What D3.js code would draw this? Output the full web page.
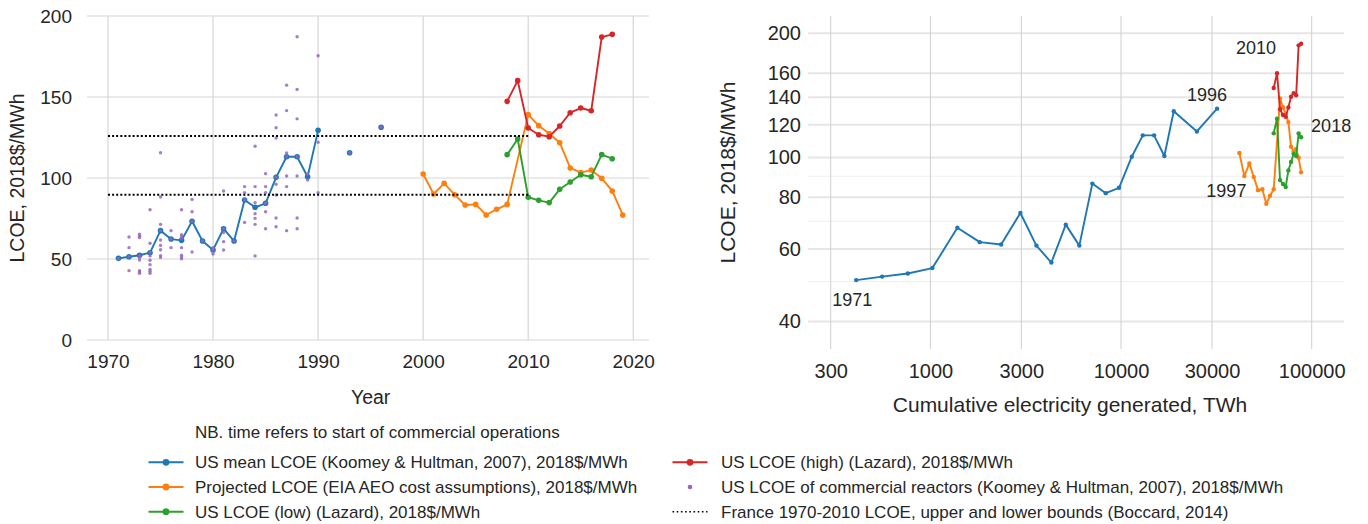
<!DOCTYPE html>
<html>
<head>
<meta charset="utf-8">
<script src="https://cdn.jsdelivr.net/npm/d3@7"></script>
<style>
  html, body { margin: 0; padding: 0; background: #ffffff; }
  svg { display: block; font-family: "Liberation Sans", Arial, sans-serif; }
  .tick text { fill: #262626; }
</style>
</head>
<body>
<svg id="chart" width="1368" height="524"></svg>
<script>
// ---- US mean LCOE (Koomey & Hultman, 2007) ----
const meanYears = [1971, 1972, 1973, 1974, 1975, 1976, 1977, 1978, 1979, 1980,
                   1981, 1982, 1983, 1984, 1985, 1986, 1987, 1988, 1989, 1990,
                   1991, 1992, 1993, 1994, 1995, 1996];
const meanLCOE  = [50.4, 51.4, 52.3, 53.9, 67.5, 62.3, 61.5, 73.3, 61.1, 55.6,
                   68.7, 61.1, 86.4, 81.9, 84.4, 100.4, 113.1, 113.1, 100.8, 129.4,
                   NaN, NaN, 115.6, NaN, NaN, 131.3];

// ---- Projected LCOE (EIA AEO cost assumptions) ----
const eiaYears = [2000, 2001, 2002, 2003, 2004, 2005, 2006, 2007, 2008,
                  2010, 2011, 2012, 2013, 2014, 2015, 2016, 2017, 2018, 2019];
const eiaLCOE  = [102.5, 90.1, 96.7, 89.7, 83.3, 83.7, 77.2, 80.7, 83.7,
                  139.1, 132.3, 127.5, 121.8, 106.2, 103.3, 104.9, 99.8, 92.0, 77.2];

// ---- Lazard (low / high) ----
const lazardYears = [2008, 2009, 2010, 2011, 2012, 2013, 2014, 2015, 2016, 2017, 2018];
const lazardLow   = [114.4, 124.1, 88.1, 86.2, 84.8, 93.0, 97.5, 102.0, 100.8, 114.4, 111.9];
const lazardHigh  = [147.3, 160.1, 130.9, 126.7, 125.5, 132.1, 140.3, 143.2, 141.5, 187.0, 188.7];

// ---- LCOE of individual commercial reactors (Koomey & Hultman, 2007) ----
const reactorYears = [
  1971,
  1972, 1972, 1972, 1972,
  1973, 1973, 1973, 1973, 1973, 1973, 1973, 1973, 1973,
  1974, 1974, 1974, 1974, 1974, 1974, 1974, 1974, 1974,
  1975, 1975, 1975, 1975, 1975, 1975, 1975, 1975, 1975,
  1976, 1976, 1976,
  1977, 1977, 1977, 1977, 1977, 1977, 1977, 1977,
  1978, 1978, 1978, 1978,
  1979,
  1980, 1980, 1980,
  1981, 1981, 1981, 1981, 1981,
  1982,
  1983, 1983, 1983, 1983,
  1984, 1984, 1984, 1984, 1984, 1984, 1984,
  1985, 1985, 1985, 1985, 1985, 1985,
  1986, 1986, 1986, 1986, 1986, 1986, 1986, 1986,
  1987, 1987, 1987, 1987, 1987, 1987, 1987,
  1988, 1988, 1988, 1988, 1988, 1988, 1988,
  1989, 1989,
  1990, 1990, 1990,
  1993,
  1996
];
const reactorLCOE = [
  50.4,
  63.6, 57.0, 51.4, 42.8,
  65.3, 64.0, 63.2, 52.0, 51.0, 49.4, 42.8, 42.0, 41.2,
  80.4, 59.7, 54.1, 51.9, 49.2, 46.5, 43.6, 42.4, 41.2,
  115.6, 88.3, 71.4, 67.5, 61.7, 58.4, 55.7, 52.1, 51.0,
  67.5, 62.3, 57.0,
  80.4, 65.0, 63.8, 62.8, 57.0, 52.3, 51.2, 50.2,
  86.8, 79.2, 73.3, 54.3,
  61.1,
  57.0, 55.6, 53.1,
  92.0, 68.7, 66.3, 60.7, 55.6,
  61.1,
  94.7, 91.0, 86.4, 72.6,
  119.6, 94.7, 84.8, 78.0, 75.1, 71.4, 51.9,
  102.7, 94.7, 91.0, 84.4, 79.2, 68.7,
  138.9, 131.0, 124.7, 100.4, 96.1, 89.5, 75.3, 69.9,
  157.3, 141.6, 115.5, 113.1, 101.2, 94.7, 67.5,
  187.2, 154.7, 136.5, 113.1, 101.2, 75.3, 68.7,
  102.5, 98.8,
  175.5, 122.1, 90.9,
  115.6,
  131.3
];

// ---- France 1970-2010 LCOE bounds (Boccard, 2014) ----
const franceYears = [1970, 2010];
const franceLower = 89.6;
const franceUpper = 126.0;

// ---- Cumulative nuclear electricity generated by year, TWh ----
const cumYears = [1971, 1972, 1973, 1974, 1975, 1976, 1977, 1978, 1979, 1980,
                  1981, 1982, 1983, 1984, 1985, 1986, 1987, 1988, 1989, 1990,
                  1993, 1996,
                  2000, 2001, 2002, 2003, 2004, 2005, 2006, 2007, 2008, 2009,
                  2010, 2011, 2012, 2013, 2014, 2015, 2016, 2017, 2018];
const cumTWh   = [408, 558, 761, 1024, 1385, 1815, 2349, 2965, 3597, 4310,
                  5129, 6040, 7070, 8313, 9761, 11380, 13000, 14900, 16870, 18900,
                  25000, 31880,
                  41730, 44330, 47080, 49640, 52290, 55080, 57810, 60420, 63200, 65770,
                  68210, 70700, 73050, 75450, 77900, 80400, 82900, 85400, 88000];

// ---- Axis ticks ----
const leftXTicks  = [1970, 1980, 1990, 2000, 2010, 2020];
const leftYTicks  = [0, 50, 100, 150, 200];
const rightXTicks = [300, 1000, 3000, 10000, 30000, 100000];
const rightXLabels = ["300", "1000", "3000", "10000", "30000", "100000"];
const rightYTicks = [40, 60, 80, 100, 120, 140, 160, 200];
const rightYMinor = [50, 70, 90];

// ---- Year annotations on the experience curve ----
const noteLabels = ["1971", "1996", "1997", "2010", "2018"];

// ---- Legend ----
const legendTitle = "NB. time refers to start of commercial operations";
const legendLabels = [
  "US mean LCOE (Koomey & Hultman, 2007), 2018$/MWh",
  "Projected LCOE (EIA AEO cost assumptions), 2018$/MWh",
  "US LCOE (low) (Lazard), 2018$/MWh",
  "US LCOE (high) (Lazard), 2018$/MWh",
  "US LCOE of commercial reactors (Koomey & Hultman, 2007), 2018$/MWh",
  "France 1970-2010 LCOE, upper and lower bounds (Boccard, 2014)"
];

const C = { blue: "#1f77b4", orange: "#ff7f0e", green: "#2ca02c", red: "#d62728", purple: "#9467bd" };
const TXT = "#262626";

const svg = d3.select("#chart");
const zip = (xs, ys) => xs.map((x, i) => ({ x, y: ys[i] }));
const cumOf = yr => cumTWh[cumYears.indexOf(yr)];

// ================= Left panel: LCOE over time =================
const L = { left: 87, right: 649, top: 16, bottom: 340 };
const xL = d3.scaleLinear().domain([1968, 2021.5]).range([L.left, L.right]);
const yL = d3.scaleLinear().domain([0, 200]).range([L.bottom, L.top]);

const gL = svg.append("g");

// grid
gL.append("g").selectAll("line").data(leftXTicks).join("line")
  .attr("x1", d => xL(d)).attr("x2", d => xL(d))
  .attr("y1", L.top).attr("y2", L.bottom)
  .attr("stroke", "#d6d6d6").attr("stroke-width", 1.2);
gL.append("g").selectAll("line").data(leftYTicks).join("line")
  .attr("x1", L.left).attr("x2", L.right)
  .attr("y1", d => yL(d)).attr("y2", d => yL(d))
  .attr("stroke", "#d6d6d6").attr("stroke-width", 1.2);

// axes (labels only)
const axL = gL.append("g").attr("transform", `translate(0,${L.bottom})`)
  .call(d3.axisBottom(xL).tickValues(leftXTicks).tickFormat(d3.format("d")).tickSize(0).tickPadding(15));
const ayL = gL.append("g").attr("transform", `translate(${L.left},0)`)
  .call(d3.axisLeft(yL).tickValues(leftYTicks).tickSize(0).tickPadding(15));
[axL, ayL].forEach(a => {
  a.select(".domain").remove();
  a.selectAll("text").attr("font-size", 19).attr("font-family", "Liberation Sans, Arial, sans-serif").attr("fill", TXT);
});

gL.append("text").attr("x", (xL(1970) + xL(2020)) / 2).attr("y", 404)
  .attr("text-anchor", "middle").attr("font-size", 19.5).attr("fill", TXT).text("Year");
gL.append("text").attr("transform", `translate(24,${(L.top + L.bottom) / 2}) rotate(-90)`)
  .attr("text-anchor", "middle").attr("font-size", 19.5).attr("fill", TXT).text("LCOE, 2018$/MWh");

function drawSeries(g, pts, color, xs, ys, r, lw) {
  const line = d3.line().defined(d => !isNaN(d.y)).x(d => xs(d.x)).y(d => ys(d.y));
  g.append("path").datum(pts).attr("d", line)
    .attr("fill", "none").attr("stroke", color).attr("stroke-width", lw)
    .attr("stroke-linejoin", "round");
  g.append("g").selectAll("circle").data(pts.filter(d => !isNaN(d.y))).join("circle")
    .attr("cx", d => xs(d.x)).attr("cy", d => ys(d.y)).attr("r", r).attr("fill", color);
}

drawSeries(gL, zip(meanYears, meanLCOE), C.blue, xL, yL, 2.8, 1.9);
drawSeries(gL, zip(eiaYears, eiaLCOE), C.orange, xL, yL, 2.8, 1.9);
drawSeries(gL, zip(lazardYears, lazardLow), C.green, xL, yL, 2.8, 1.9);
drawSeries(gL, zip(lazardYears, lazardHigh), C.red, xL, yL, 2.8, 1.9);

// reactor scatter
gL.append("g").selectAll("circle").data(zip(reactorYears, reactorLCOE)).join("circle")
  .attr("cx", d => xL(d.x)).attr("cy", d => yL(d.y)).attr("r", 1.7)
  .attr("fill", C.purple).attr("fill-opacity", 0.85);

// France bounds
[franceLower, franceUpper].forEach(v => {
  gL.append("line")
    .attr("x1", xL(franceYears[0])).attr("x2", xL(franceYears[1]))
    .attr("y1", yL(v)).attr("y2", yL(v))
    .attr("stroke", "#000").attr("stroke-width", 2).attr("stroke-dasharray", "2,2.1");
});

// ================= Right panel: experience curve =================
const R = { left: 808, right: 1344, top: 16, bottom: 349 };
const xR = d3.scaleLog().domain([228, 147700]).range([R.left, R.right]);
const yR = d3.scaleLog().domain([34.3, 220.3]).range([R.bottom, R.top]);

const gR = svg.append("g");

gR.append("g").selectAll("line").data(rightYMinor).join("line")
  .attr("x1", R.left).attr("x2", R.right)
  .attr("y1", d => yR(d)).attr("y2", d => yR(d))
  .attr("stroke", "#f0f0f0").attr("stroke-width", 1);
gR.append("g").selectAll("line").data(rightYTicks).join("line")
  .attr("x1", R.left).attr("x2", R.right)
  .attr("y1", d => yR(d)).attr("y2", d => yR(d))
  .attr("stroke", "#e6e6e6").attr("stroke-width", 2);
gR.append("g").selectAll("line").data(rightXTicks).join("line")
  .attr("x1", d => xR(d)).attr("x2", d => xR(d))
  .attr("y1", R.top).attr("y2", R.bottom)
  .attr("stroke", "#cfcfcf").attr("stroke-width", 1);

const axR = gR.append("g").attr("transform", `translate(0,${R.bottom})`)
  .call(d3.axisBottom(xR).tickValues(rightXTicks).tickFormat((d, i) => rightXLabels[i]).tickSize(0).tickPadding(15));
const ayR = gR.append("g").attr("transform", `translate(${R.left},0)`)
  .call(d3.axisLeft(yR).tickValues(rightYTicks).tickFormat(d3.format("d")).tickSize(0).tickPadding(7));
[axR, ayR].forEach(a => {
  a.select(".domain").remove();
  a.selectAll("text").attr("font-size", 20).attr("font-family", "Liberation Sans, Arial, sans-serif").attr("fill", TXT);
});

gR.append("text").attr("x", (R.left + R.right) / 2 - 6).attr("y", 412)
  .attr("text-anchor", "middle").attr("font-size", 21).attr("fill", TXT).text("Cumulative electricity generated, TWh");
gR.append("text").attr("transform", `translate(735,${(R.top + R.bottom) / 2 - 10}) rotate(-90)`)
  .attr("text-anchor", "middle").attr("font-size", 21).attr("fill", TXT).text("LCOE, 2018$/MWh");

// series positioned at cumulative generation for their year
function toCum(years, vals) {
  return years.map((yr, i) => ({ x: cumOf(yr), y: vals[i] }))
    .filter(d => d.x !== undefined && !isNaN(d.y));
}
drawSeries(gR, toCum(meanYears, meanLCOE), C.blue, xR, yR, 2.2, 1.9);
drawSeries(gR, toCum(eiaYears, eiaLCOE), C.orange, xR, yR, 2.2, 1.9);
drawSeries(gR, toCum(lazardYears, lazardLow), C.green, xR, yR, 2.2, 1.9);
drawSeries(gR, toCum(lazardYears, lazardHigh), C.red, xR, yR, 2.2, 1.9);

// year annotations, offset from the points they name
const notes = [
  { t: noteLabels[0], x: cumOf(1971), y: meanLCOE[0], dx: -24, dy: 26 },
  { t: noteLabels[1], x: cumOf(1996), y: meanLCOE[25], dx: -30, dy: -8 },
  { t: noteLabels[2], x: cumOf(2000), y: eiaLCOE[0], dx: -33, dy: 44 },
  { t: noteLabels[3], x: cumOf(2009), y: lazardHigh[1], dx: -41, dy: -19 },
  { t: noteLabels[4], x: cumOf(2018), y: lazardLow[10], dx: 10, dy: -5 }
];
gR.append("g").selectAll("text").data(notes).join("text")
  .attr("x", d => xR(d.x) + d.dx).attr("y", d => yR(d.y) + d.dy)
  .attr("font-size", 18).attr("fill", TXT).text(d => d.t);

// ================= Legend =================
const gLeg = svg.append("g").attr("font-size", 17).attr("fill", TXT);
gLeg.append("text").attr("x", 195).attr("y", 438).attr("fill", TXT).text(legendTitle);

const legItems = [
  { col: 0, row: 0, kind: "line", color: C.blue },
  { col: 0, row: 1, kind: "line", color: C.orange },
  { col: 0, row: 2, kind: "line", color: C.green },
  { col: 1, row: 0, kind: "line", color: C.red },
  { col: 1, row: 1, kind: "dot", color: C.purple },
  { col: 1, row: 2, kind: "dotted", color: "#000" }
];
const colX = [148.5, 672.5];
const colTextX = [195, 721];
const rowY = [462.3, 487, 511.7];
legItems.forEach((it, i) => {
  const x0 = colX[it.col], y0 = rowY[it.row];
  const g = gLeg.append("g");
  if (it.kind === "line") {
    g.append("line").attr("x1", x0).attr("x2", x0 + 35).attr("y1", y0).attr("y2", y0)
      .attr("stroke", it.color).attr("stroke-width", 2);
    g.append("circle").attr("cx", x0 + 17.5).attr("cy", y0).attr("r", 3.4).attr("fill", it.color);
  } else if (it.kind === "dot") {
    g.append("circle").attr("cx", x0 + 17.5).attr("cy", y0).attr("r", 2.3).attr("fill", it.color);
  } else {
    g.append("line").attr("x1", x0).attr("x2", x0 + 35).attr("y1", y0).attr("y2", y0)
      .attr("stroke", it.color).attr("stroke-width", 1.6).attr("stroke-dasharray", "1.6,2.6");
  }
  g.append("text").attr("x", colTextX[it.col]).attr("y", y0 + 6).attr("fill", TXT).text(legendLabels[i]);
});
</script>
</body>
</html>
